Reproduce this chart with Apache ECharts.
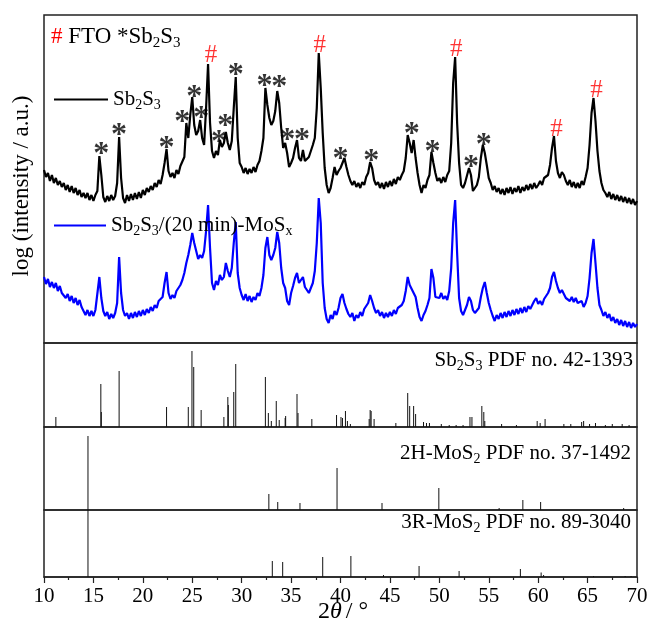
<!DOCTYPE html>
<html>
<head>
<meta charset="utf-8">
<script src="https://cdn.jsdelivr.net/npm/echarts@6/dist/echarts.min.js"></script>
<style>
html, body { margin: 0; padding: 0; background: #fff; }
#chart { width: 651px; height: 622px; }
</style>
</head>
<body>
<div id="chart"></div>
<script>
// scan: 10..70 deg, one reading every 0.2 deg (heights in px-like units above panel floor)
const scanStart = 10;
const scanStep = 0.2;

const sb2s3Scan = [
  173,166,170,162,168,160,165,158,162,156,
  160,153,158,151,157,150,155,148,153,146,
  150,145,150,143,148,142,148,152,187,168,
  146,141,147,142,148,143,147,160,206,165,
  145,140,148,142,149,143,150,144,151,145,
  153,148,155,151,157,153,160,156,163,159,
  168,180,194,172,166,170,165,173,169,177,
  178,186,220,205,228,246,218,208,212,223,
  205,198,235,279,220,192,185,192,188,203,
  196,200,211,200,193,202,235,266,205,180,
  176,170,175,169,174,170,176,171,178,182,
  192,205,255,238,225,218,222,232,252,240,
  215,195,200,190,176,180,185,195,203,185,
  182,193,182,180,186,185,198,205,235,290,
  255,210,175,158,150,155,165,176,168,172,
  175,180,185,176,168,162,158,162,156,160,
  155,161,158,166,170,181,175,163,158,161,
  155,160,154,161,156,162,157,164,159,166,
  163,168,172,185,208,200,190,203,185,170,
  158,150,158,155,163,168,191,180,170,162,
  165,160,166,161,168,172,200,260,286,220,
  180,158,155,160,162,175,168,152,150,158,
  166,185,198,190,178,165,160,153,157,151,
  155,149,154,148,155,150,156,149,155,151,
  157,150,156,152,158,153,159,154,160,155,
  158,162,158,165,163,168,178,195,207,182,
  170,165,171,168,162,158,163,156,161,155,
  160,155,162,158,166,175,198,230,245,222,
  192,172,160,153,150,146,151,144,149,143,
  148,142,147,141,146,140,145,139,144,138,
  142
];

const mosxScan = [
  66,59,64,56,61,55,60,52,57,50,
  51,45,49,42,47,40,45,38,43,36,
  34,28,33,27,32,27,33,35,66,45,
  32,27,31,24,29,25,30,40,86,50,
  33,27,30,24,30,25,31,26,32,27,
  33,28,34,30,36,32,38,35,42,40,
  46,60,71,50,44,48,45,52,50,58,
  63,70,80,88,98,110,100,92,84,88,
  85,92,112,138,95,60,53,62,58,68,
  63,66,80,72,66,75,100,121,70,55,
  48,43,49,42,47,41,46,43,50,47,
  55,68,95,106,88,83,88,95,111,100,
  75,60,55,42,38,50,57,65,70,60,
  58,66,56,55,50,55,60,72,100,145,
  120,60,35,24,20,28,24,32,28,35,
  45,49,40,34,29,26,30,22,28,25,
  31,27,34,36,40,48,42,35,30,33,
  27,31,25,30,26,31,27,33,29,35,
  33,38,42,52,66,58,54,56,46,35,
  26,22,28,32,38,45,74,65,46,44,
  45,50,44,47,43,52,75,120,143,90,
  45,32,28,33,38,46,42,33,30,28,
  35,46,55,61,50,40,33,27,22,28,
  24,30,25,31,26,32,27,33,28,34,
  29,35,30,36,31,37,34,38,42,45,
  39,42,38,44,45,50,55,66,71,62,
  55,50,53,52,45,47,42,46,41,45,
  40,38,42,36,40,47,65,90,104,80,
  55,38,33,27,31,25,29,22,26,20,
  24,18,23,17,22,16,21,15,20,16,
  19
];

// peak marks [2theta, height]
const sb2s3Marks = [[15.8,197],[17.6,216],[22.4,203],[24.0,229],[25.2,254],[25.9,233],[27.7,209],
  [28.35,225],[29.4,276],[32.3,265],[33.8,264],[34.6,211],[36.1,211],[40.0,192],[43.1,190],
  [47.2,217],[49.3,199],[53.2,184],[54.5,206]];
const ftoMarks = [[26.9,290],[37.9,300],[51.7,296],[61.85,216],[65.9,255]];

// reference patterns [2theta, stick height]
const sb2s3Pdf = [[11.2,10],[15.75,43],[15.8,15],[17.6,56],[22.4,20],[24.6,20],[24.97,76],[25.15,60],
  [25.9,17],[28.2,10],[28.6,30],[28.65,22],[29.2,35],[29.4,63],[32.4,50],[32.7,14],[33.0,6],[33.5,26],
  [33.8,7],[34.4,9],[34.45,11],[35.6,33],[35.7,14],[37.1,8],[39.6,12],[40.05,10],[40.2,9],[40.5,16],
  [40.7,6],[41.0,3],[42.9,8],[43.0,17],[43.1,16],[43.4,8],[45.6,4],[46.8,34],[47.0,21],[47.4,21],
  [47.6,13],[48.4,5],[48.7,4],[49.0,4],[50.2,3],[51.0,2],[51.7,2],[52.4,2],[53.1,10],[53.3,10],
  [54.3,21],[54.5,15],[54.6,6],[56.3,3],[57.8,2],[59.9,6],[60.2,4],[60.7,8],[62.6,3],[63.3,3],
  [64.4,5],[64.6,6],[65.2,3],[65.8,4],[66.8,2],[67.5,3],[68.5,3],[69.2,2]];
const mos2HPdf = [[14.45,74],[32.75,16],[33.65,8],[35.9,7],[39.65,42],[44.2,7],[49.95,22],
  [56.05,2],[58.45,10],[60.25,8],[68.65,2]];
const mos2RPdf = [[14.45,67],[33.1,16],[34.15,15],[38.2,20],[41.05,21],[44.35,2],[47.95,11],
  [52.0,6],[58.2,8],[60.3,4.5],[60.55,2],[65.6,1],[68.8,1],[69.4,1]];

const xTicks = [10, 15, 20, 25, 30, 35, 40, 45, 50, 55, 60, 65, 70];

const SERIF = 'Liberation Serif, Times New Roman, serif';
const FRAME = '#222';

function toPairs(vals) {
  return vals.map(function (v, i) { return [scanStart + i * scanStep, v]; });
}

const subRich = {
  n: { fontFamily: SERIF, fontSize: 21, color: '#000' },
  s: { fontFamily: SERIF, fontSize: 14, color: '#000', padding: [12, 0, 0, 0], verticalAlign: 'bottom' }
};

function stickSeries(idx, data) {
  return {
    type: 'custom',
    xAxisIndex: idx,
    yAxisIndex: idx,
    data: data,
    silent: true,
    renderItem: function (params, api) {
      const a = api.coord([api.value(0), 0]);
      const b = api.coord([api.value(0), api.value(1)]);
      return {
        type: 'line',
        shape: { x1: a[0], y1: a[1], x2: b[0], y2: b[1] },
        style: { stroke: '#111', lineWidth: 1 }
      };
    }
  };
}

function markSeries(data, text, color, size, weight, dy) {
  return {
    type: 'scatter',
    xAxisIndex: 0,
    yAxisIndex: 0,
    data: data,
    symbolSize: 0,
    silent: true,
    z: 5,
    label: {
      show: true, position: 'inside', formatter: text,
      fontFamily: SERIF, fontSize: size, fontWeight: weight, color: color, offset: [0, dy]
    }
  };
}

const chart = echarts.init(document.getElementById('chart'));

const grids = [
  { left: 44, top: 15, width: 593, height: 328 },
  { left: 44, top: 343, width: 593, height: 84 },
  { left: 44, top: 427, width: 593, height: 83 },
  { left: 44, top: 510, width: 593, height: 67 }
].map(function (g) {
  return Object.assign({ show: true, borderColor: FRAME, borderWidth: 1.5, containLabel: false }, g);
});

const yMax = [328, 84, 83, 67];

const xAxes = [0, 1, 2, 3].map(function (i) {
  const ax = { type: 'value', gridIndex: i, min: 10, max: 70, interval: 5, show: i === 3 };
  if (i === 3) {
    Object.assign(ax, {
      axisLine: { lineStyle: { color: FRAME, width: 1.5 } },
      axisTick: { length: 6, lineStyle: { color: FRAME, width: 1.2 } },
      minorTick: { show: true, splitNumber: 2, length: 3, lineStyle: { color: FRAME, width: 1.2 } },
      axisLabel: {
        fontFamily: SERIF, fontSize: 21, color: '#000', margin: 9,
        customValues: xTicks
      },
      splitLine: { show: false }
    });
  }
  return ax;
});

const yAxes = [0, 1, 2, 3].map(function (i) {
  return { type: 'value', gridIndex: i, min: 0, max: yMax[i], show: false };
});

const option = {
  animation: false,
  backgroundColor: '#fff',
  grid: grids,
  xAxis: xAxes,
  yAxis: yAxes,
  legend: [
    {
      data: ['Sb2S3'], left: 49, top: 84, itemWidth: 54, itemHeight: 2,
      icon: 'rect', itemGap: 0,
      formatter: function () { return '{n|Sb}{s|2}{n|S}{s|3}'; },
      textStyle: { rich: subRich }
    },
    {
      data: ['Sb2S3/(20 min)-MoSx'], left: 49, top: 210, itemWidth: 52, itemHeight: 2,
      icon: 'rect', itemGap: 0,
      formatter: function () { return '{n|Sb}{s|2}{n|S}{s|3}{n|/(20 min)-MoS}{s|x}'; },
      textStyle: { rich: subRich }
    }
  ],
  series: [
    {
      name: 'Sb2S3/(20 min)-MoSx', type: 'line', xAxisIndex: 0, yAxisIndex: 0,
      data: toPairs(mosxScan), symbol: 'none', lineStyle: { color: '#0000ff', width: 2.2 },
      itemStyle: { color: '#0000ff' }
    },
    {
      name: 'Sb2S3', type: 'line', xAxisIndex: 0, yAxisIndex: 0,
      data: toPairs(sb2s3Scan), symbol: 'none', lineStyle: { color: '#000', width: 2.2 },
      itemStyle: { color: '#000' }
    },
    markSeries(sb2s3Marks, '*', '#000', 32, 'bold', 9),
    markSeries(ftoMarks, '#', '#ff0000', 25, 'normal', 2),
    stickSeries(1, sb2s3Pdf),
    stickSeries(2, mos2HPdf),
    stickSeries(3, mos2RPdf)
  ],
  graphic: [
    {
      type: 'text', left: 51, top: 25, z: 10,
      style: {
        text: '{r|# }{k|FTO *Sb}{ks|2}{k|S}{ks|3}',
        rich: {
          r: { fontFamily: SERIF, fontSize: 23, fill: '#ff0000' },
          k: { fontFamily: SERIF, fontSize: 23, fill: '#000' },
          ks: { fontFamily: SERIF, fontSize: 15, fill: '#000', padding: [13, 0, 0, 0], verticalAlign: 'bottom' }
        }
      }
    },
    {
      type: 'text', right: 18, top: 350, z: 10,
      style: { text: '{n|Sb}{s|2}{n|S}{s|3}{n| PDF no. 42-1393}', rich: subRich }
    },
    {
      type: 'text', right: 20, top: 443, z: 10,
      style: { text: '{n|2H-MoS}{s|2}{n| PDF no. 37-1492}', rich: subRich }
    },
    {
      type: 'text', right: 20, top: 512, z: 10,
      style: { text: '{n|3R-MoS}{s|2}{n| PDF no. 89-3040}', rich: subRich }
    },
    {
      type: 'text', x: 22, y: 186, rotation: Math.PI / 2, z: 10,
      style: {
        text: 'log (intensity / a.u.)', font: '23px ' + SERIF, fill: '#000',
        align: 'center', verticalAlign: 'middle'
      }
    },
    {
      type: 'text', left: 318, top: 600, z: 10,
      style: {
        text: '{n|2}{i|θ}{n|/ °}',
        rich: {
          n: { fontFamily: SERIF, fontSize: 24, fill: '#000' },
          i: { fontFamily: SERIF, fontSize: 24, fontStyle: 'italic', fill: '#000', padding: [0, 4, 0, 0] }
        }
      }
    }
  ]
};

chart.setOption(option);
</script>
</body>
</html>
